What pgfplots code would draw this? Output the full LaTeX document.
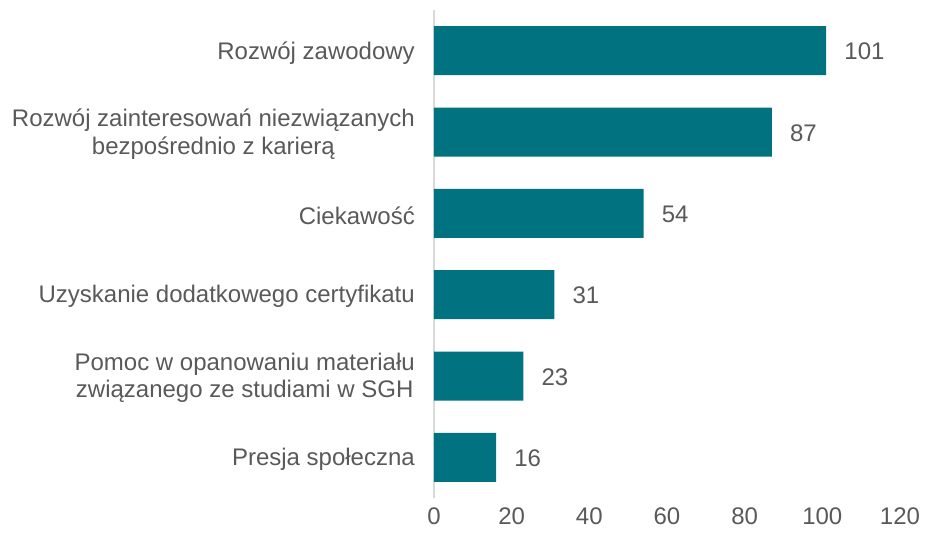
\documentclass[border=0pt]{standalone}
\usepackage{pgfplots}
\pgfplotsset{compat=1.18}
\usepackage{fontspec}
\setmainfont{Liberation Sans}
\definecolor{barc}{RGB}{0,114,128}
\definecolor{txt}{RGB}{89,89,89}
\definecolor{axc}{RGB}{217,217,217}
\begin{document}
\fontsize{24bp}{27.5bp}\selectfont
\begin{tikzpicture}
\begin{axis}[
  at={(0,0)}, anchor=south west,
  scale only axis,
  width=466bp, height=488bp,
  xmin=0, xmax=120,
  ymin=-0.5, ymax=5.5,
  y dir=reverse,
  xbar, bar width=49bp,
  bar shift=0pt,
  xtick={0,20,40,60,80,100,120},
  ytick={0,1,2,3,4,5},
  yticklabels={Rozwój zawodowy,{Rozwój zainteresowań niezwiązanych\\bezpośrednio z karierą},Ciekawość,Uzyskanie dodatkowego certyfikatu,{Pomoc w opanowaniu materiału\\związanego ze studiami w SGH},Presja społeczna},
  yticklabel style={align=center, font=\fontsize{24bp}{27.5bp}\selectfont, text=txt, xshift=-11bp, yshift=-2bp},
  xticklabel style={font=\fontsize{24bp}{27.5bp}\selectfont, text=txt, inner sep=1bp, yshift=-9bp},
  /pgf/number format/assume math mode=true,
  major tick length=0pt,
  axis x line*=bottom,
  axis y line*=left,
  x axis line style={draw=none},
  y axis line style={draw=axc, line width=1.5bp, -},
  nodes near coords,
  nodes near coords style={font=\fontsize{24bp}{27.5bp}\selectfont, text=txt, anchor=west, xshift=10bp, yshift=-1bp},
  clip=false,
]
\addplot[fill=barc, draw=none] coordinates {(101,0) (87,1) (54,2) (31,3) (23,4) (16,5)};
\end{axis}
\pgfresetboundingbox
\path[use as bounding box] (-434bp,-40bp) rectangle (494bp,498bp);
\end{tikzpicture}
\end{document}
